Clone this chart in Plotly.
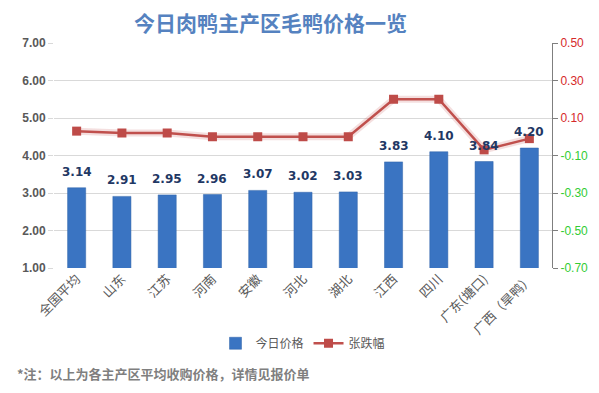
import plotly.graph_objects as go

categories = ["全国平均", "山东", "江苏", "河南", "安徽", "河北", "湖北", "江西", "四川", "广东(塘口)", "广西（旱鸭）"]
prices = [3.14, 2.91, 2.95, 2.96, 3.07, 3.02, 3.03, 3.83, 4.10, 3.84, 4.20]
changes = [0.03, 0.02, 0.02, 0.00, 0.00, 0.00, 0.00, 0.20, 0.20, -0.07, -0.01]
left_ticks = [1, 2, 3, 4, 5, 6, 7]
right_ticks = [0.5, 0.3, 0.1, -0.1, -0.3, -0.5, -0.7]

CJK = "Noto Sans CJK SC"
fig = go.Figure()

fig.add_trace(go.Bar(
    x=categories, y=prices, name="今日价格", width=0.4,
    marker=dict(color="#3a74c2", line=dict(color="#2e62a8", width=0.5)),
    yaxis="y",
))
# glow under line
fig.add_trace(go.Scatter(
    x=categories, y=changes, mode="lines", yaxis="y2", showlegend=False,
    line=dict(color="rgba(192,80,77,0.18)", width=7), hoverinfo="skip",
))
fig.add_trace(go.Scatter(
    x=categories, y=changes, name="张跌幅", mode="lines+markers", yaxis="y2",
    line=dict(color="#c0504d", width=2.5),
    marker=dict(symbol="square", size=9, color="#be4b48"),
))

annotations = []
for c, v in zip(categories, prices):
    annotations.append(dict(
        x=c, y=v, xref="x", yref="y", text=f"<b>{v:.2f}</b>", showarrow=False,
        yanchor="bottom", yshift=7,
        font=dict(family="DejaVu Sans", size=12, color="#1f3864"),
    ))
annotations.append(dict(
    x=0.434, y=1.0, xref="paper", yref="paper", xanchor="center", yanchor="bottom",
    yshift=4, text="<b>今日肉鸭主产区毛鸭价格一览</b>", showarrow=False,
    font=dict(family=CJK, size=21, color="#5582c0"),
))
annotations.append(dict(
    x=0, y=0, xref="paper", yref="paper", xanchor="left", yanchor="middle",
    xshift=-39, yshift=-105, text="<b>*注：以上为各主产区平均收购价格，详情见报价单</b>",
    showarrow=False, font=dict(family=CJK, size=13, color="#7f7f7f"),
))

pos_col, neg_col = "#d62a2a", "#33cc33"
right_text = [f"<span style='color:{pos_col if t > 0 else neg_col}'>{t:.2f}</span>" for t in right_ticks]

fig.update_layout(
    width=591, height=385,
    margin=dict(l=46, r=47, t=35, b=125),
    paper_bgcolor="white", plot_bgcolor="white",
    bargap=0.6,
    showlegend=True,
    legend=dict(orientation="h", x=0.5, xanchor="center", y=-0.27, yanchor="top",
                font=dict(family=CJK, size=12, color="#595959")),
    xaxis=dict(
        range=[-0.5, len(categories) - 0.5],
        tickangle=-45, tickfont=dict(family=CJK, size=13, color="#595959"),
        showgrid=False, showline=False, ticks="", automargin=False,
    ),
    yaxis=dict(
        range=[1, 7], tickvals=left_ticks, ticktext=[f"<b>{t:.2f}</b>" for t in left_ticks],
        tickfont=dict(family="Liberation Sans", size=12, color="#595959"),
        showgrid=True, gridcolor="#d9d9d9", gridwidth=1, automargin=False,
        ticks="outside", ticklen=5, tickcolor="#d9d9d9", zeroline=False,
    ),
    yaxis2=dict(
        range=[-0.7, 0.5], overlaying="y", side="right",
        tickvals=right_ticks, ticktext=right_text, automargin=False,
        tickfont=dict(family="Liberation Sans", size=12),
        showgrid=False, zeroline=False, showline=True, linecolor="#7f7f7f", linewidth=1,
        ticks="outside", ticklen=5, tickcolor="#7f7f7f",
    ),
    annotations=annotations,
)

fig.write_html("out.html")
